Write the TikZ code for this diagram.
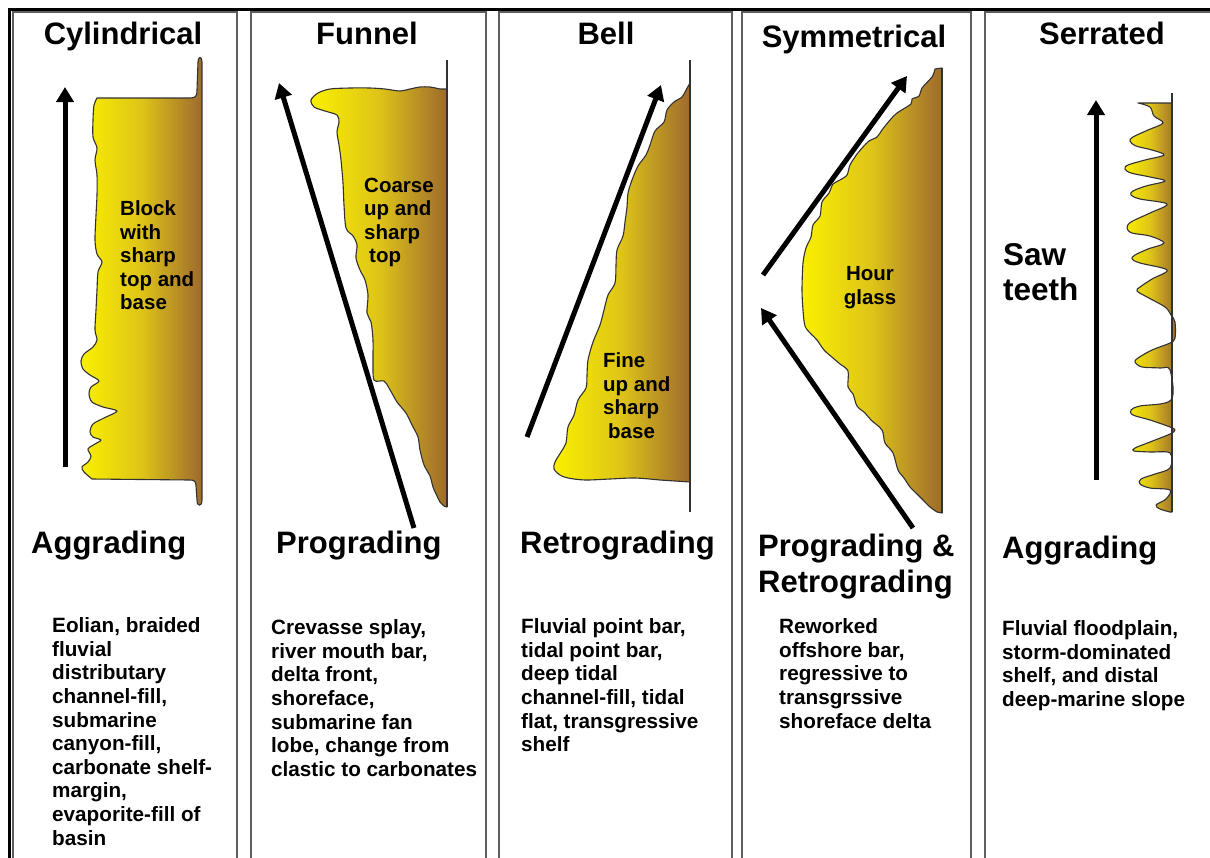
\documentclass[tikz,border=0pt]{standalone}
\usepackage{fontspec}
\setmainfont{Liberation Sans}
\usetikzlibrary{arrows.meta}
\definecolor{gY}{RGB}{250,240,0}
\definecolor{gM}{RGB}{222,196,24}
\definecolor{gB}{RGB}{158,106,46}
\definecolor{olcol}{RGB}{50,50,50}
\definecolor{colline}{RGB}{95,95,95}
\begin{document}
\begin{tikzpicture}[x=1pt,y=-1pt,
  logfill/.style={left color=gY,right color=gB,middle color=gM,draw=olcol,line width=1.1pt,line join=round},
  logline/.style={draw=olcol,line width=1.6pt},
  colframe/.style={draw=colline,line width=1.3pt},
  bigarrow/.style={line width=5pt,-{Triangle[length=15pt,width=17pt]}},
  title/.style={font=\fontsize{31}{36}\selectfont\bfseries,anchor=base,inner sep=0pt},
  cat/.style={font=\fontsize{31}{36}\selectfont\bfseries,anchor=base west,inner sep=0pt},
  cattwo/.style={font=\fontsize{31}{36}\selectfont\bfseries,anchor=north west,inner sep=0pt,align=left,execute at begin node=\strut},
  desc/.style={font=\fontsize{20.7}{23.6}\selectfont\bfseries,anchor=north west,inner sep=0pt,align=left,execute at begin node=\strut},
  lab/.style={font=\fontsize{20.5}{23.5}\selectfont\bfseries,anchor=north west,inner sep=0pt,align=left,execute at begin node=\strut},
  biglab/.style={font=\fontsize{31.5}{35}\selectfont\bfseries,anchor=north west,inner sep=0pt,align=left,execute at begin node=\strut}
]
\useasboundingbox (0,0) rectangle (1210,857);
\clip (0,0) rectangle (1210,857);
\fill[white] (0,0) rectangle (1210,857);

% column frames
\draw[colframe] (13,12) rectangle (237,870);
\draw[colframe] (251,12) rectangle (486,870);
\draw[colframe] (499,12) rectangle (732,870);
\draw[colframe] (742,12) rectangle (971,870);
\draw[colframe] (985,12) rectangle (1225,870);
% outer frame
\draw[line width=3pt] (1215,9) -- (9,9) -- (9,865);

% ---------- Cylindrical ----------
\shadedraw[logfill] (190,98) .. controls (196,98) and (197,96) .. (197,90) -- (198,62)
  .. controls (198,56) and (202,56) .. (202,62) -- (202,500)
  .. controls (202,507) and (197,507) .. (197,500) -- (196,486)
  .. controls (196,481) and (194,480) .. (190,480) --
  plot[smooth,tension=0.5] coordinates {(92,479) (84,472) (82,467) (88,462) (91,456) (88,449) (95,444) (101,440) (93,437) (90,432) (93,424) (104,418) (117,411) (103,407) (92,402) (89,394) (91,387) (99,381) (90,375) (83,369) (81,361) (84,354) (93,347) (97,340) (95,330) (96,310) (97,290) (98,272) (102,262) (97,254) (95,240) (96,215) (97,195) (97,175) (95,160) (97,148) (93,137) (93,120) (94,105) (97,98)} -- cycle;

% ---------- Funnel ----------
\shadedraw[logfill] (447,507) -- (447,89) --
  plot[smooth,tension=0.5] coordinates {(440,89) (430,87) (420,87) (410,89) (400,91) (385,89) (370,88) (350,88) (330,89) (318,93) (311,100) (314,107) (325,111) (337,115) (339,122) (337,132) (339,145) (341,160) (343,183) (344,205) (346,228) (353,236) (357,245) (356,258) (360,270) (365,280) (368,295) (367,313) (371,322) (373,340) (373,360) (374,380) (384,381) (389,388) (397,402) (406,413) (412,425) (418,437) (420,450) (424,465) (430,476) (433,487) (437,496) (440,502) (444,506)} -- cycle;
\draw[logline] (447,60) -- (447,507);

% ---------- Bell ----------
\shadedraw[logfill] (690,482) -- (690,83) --
  plot[smooth,tension=0.5] coordinates {(686,90) (682,97) (674,102) (667,110) (664,122) (655,131) (650,145) (646,155) (638,166) (632,180) (628,193) (627,207) (625,222) (623,236) (617,250) (616,265) (615,283) (608,295) (604,310) (600,325) (593,342) (588,360) (587,375) (586,388) (578,400) (574,415) (568,427) (566,443) (561,452) (555,462) (554,469) (560,475) (568,478) (585,480) (610,479) (635,478) (660,480)} -- cycle;
\draw[logline] (690,60) -- (690,512);

% ---------- Symmetrical ----------
\shadedraw[logfill] (942,513) -- (942,68) --
  plot[smooth,tension=0.5] coordinates {(935,69) (932,77) (922,88) (919,96) (912,99) (911,104) (897,113) (890,120) (882,130) (877,137) (869,141) (863,147) (857,154) (850,165) (847,175) (840,180) (833,184) (829,193) (822,202) (820,216) (813,225) (811,237) (806,248) (803,263) (802,290) (803,310) (805,326) (811,334) (817,340) (824,350) (833,358) (840,364) (848,371) (848,387) (853,394) (857,406) (865,413) (871,420) (882,430) (885,443) (893,453) (898,470) (904,478) (910,487) (917,494) (923,500) (930,507) (937,512)} -- cycle;
\draw[logline] (942,68) -- (942,513);

% ---------- Serrated ----------
\shadedraw[logfill] (1172,512) -- (1172,103) --
  plot[smooth,tension=0.55] coordinates {(1138,103) (1150,107) (1154,116) (1163,123)
   (1148,130) (1133,137) (1130,141) (1136,146) (1152,150) (1164,155)
   (1145,160) (1128,165) (1125,169) (1131,173) (1150,177) (1165,181)
   (1146,186) (1133,191) (1131,195) (1140,199) (1167,204)
   (1150,213) (1131,222) (1127,228) (1132,233) (1150,236) (1164,243)
   (1148,249) (1135,255) (1132,259) (1140,263) (1167,270)
   (1152,279) (1140,287) (1137,291) (1147,297) (1165,307) (1171,315)
   (1175,322) (1175,338) (1170,343)
   (1152,350) (1138,358) (1135,362) (1142,367) (1160,368) (1170,370)
   (1171,400)
   (1140,406) (1131,410) (1133,415) (1150,420) (1170,427) (1175,430) (1170,434)
   (1150,442) (1135,448) (1134,451) (1150,452) (1170,453) (1170,468)
   (1155,474) (1141,479) (1140,484) (1150,488) (1170,490)
   (1166,499) (1156,505) (1160,509) (1170,512)} -- cycle;
\draw[logline] (1172,93) -- (1172,512);

% ---------- arrows ----------
\coordinate (a1s) at (65,467);   \coordinate (a1e) at (65,87);
\coordinate (a2s) at (414,528);  \coordinate (a2e) at (279,83);
\coordinate (a3s) at (527,437);  \coordinate (a3e) at (661,85);
\coordinate (a4s) at (763,275);  \coordinate (a4e) at (907,76);
\coordinate (a5s) at (913,528);  \coordinate (a5e) at (761,308);
\coordinate (a6s) at (1096,480); \coordinate (a6e) at (1096,100);
\draw[bigarrow] (a1s) -- (a1e);
\draw[bigarrow] (a2s) -- (a2e);
\draw[bigarrow] (a3s) -- (a3e);
\draw[bigarrow] (a4s) -- (a4e);
\draw[bigarrow] (a5s) -- (a5e);
\draw[bigarrow] (a6s) -- (a6e);

% ---------- titles ----------
\node[title] (t1) at (123,44) {Cylindrical};
\node[title] (t2) at (367,44) {Funnel};
\node[title] (t3) at (606,44) {Bell};
\node[title] (t4) at (854,47) {Symmetrical};
\node[title] (t5) at (1102,44) {Serrated};

% ---------- inner labels ----------
\node[lab] (l1) at (120,200.5) {Block\\with\\sharp\\top and\\base};
\node[lab] (l2) at (364,177.5) {Coarse\\up and\\sharp\\\hspace*{5pt}top};
\node[lab] (l3) at (603,352.5) {Fine\\up and\\sharp\\\hspace*{5pt}base};
\node[lab,anchor=north,align=center] (l4) at (870,266.5) {Hour\\glass};
\node[biglab] (l5) at (1003,243.5) {Saw\\teeth};

% ---------- categories ----------
\node[cat] (c1) at (31,553) {Aggrading};
\node[cat] (c2) at (276,553) {Prograding};
\node[cat] (c3) at (520,553) {Retrograding};
\node[cattwo] (c4) at (758,533.8) {Prograding \&\\Retrograding};
\node[cat] (c5) at (1002,558) {Aggrading};

% ---------- descriptions ----------
\node[desc] (d1) at (52,617.5) {Eolian, braided\\fluvial\\distributary\\channel-fill,\\submarine\\canyon-fill,\\carbonate shelf-\\margin,\\evaporite-fill of\\basin};
\node[desc] (d2) at (271,619.5) {Crevasse splay,\\river mouth bar,\\delta front,\\shoreface,\\submarine fan\\lobe, change from\\clastic to carbonates};
\node[desc] (d3) at (521,618.5) {Fluvial point bar,\\tidal point bar,\\deep tidal\\channel-fill, tidal\\flat, transgressive\\shelf};
\node[desc] (d4) at (779,618.5) {Reworked\\offshore bar,\\regressive to\\transgrssive\\shoreface delta};
\node[desc] (d5) at (1002,620.5) {Fluvial floodplain,\\storm-dominated\\shelf, and distal\\deep-marine slope};
\end{tikzpicture}
\end{document}
